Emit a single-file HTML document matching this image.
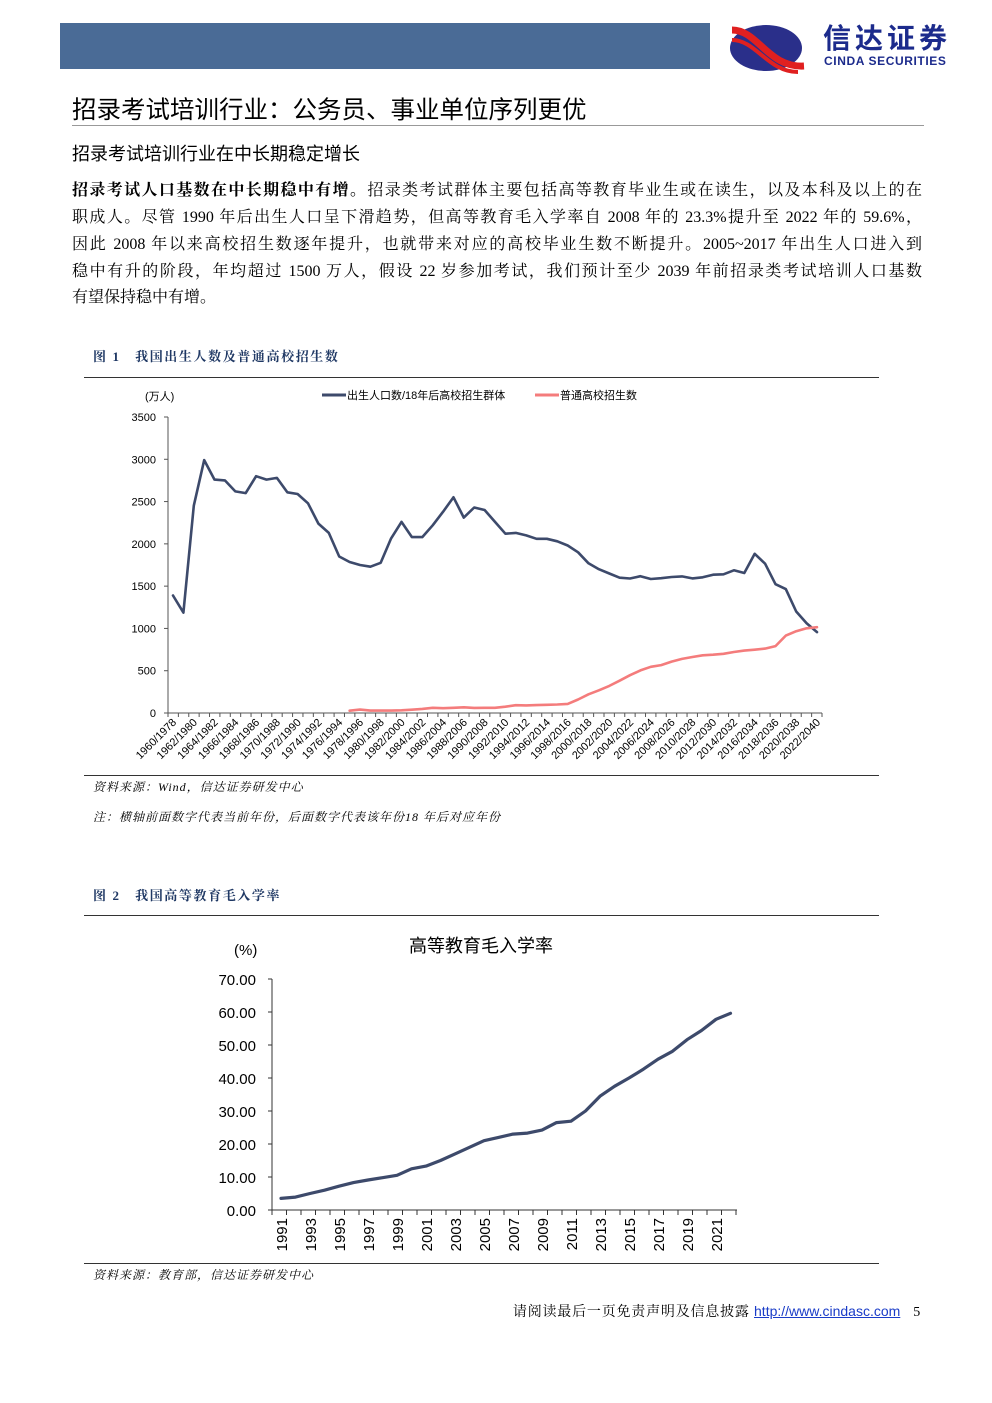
<!DOCTYPE html>
<html><head><meta charset="utf-8">
<style>
body{margin:0;background:#fff;}
#p{position:relative;width:992px;height:1403px;overflow:hidden;font-family:"Liberation Sans","Noto Sans CJK SC",sans-serif;color:#000;}
.a{position:absolute;white-space:nowrap;}
.ln{position:absolute;left:72px;width:850px;font-family:"Liberation Serif","Noto Serif CJK SC",serif;font-size:16px;text-align:justify;text-align-last:justify;white-space:nowrap;}
.cap{font-family:"Liberation Serif","Noto Serif CJK SC",serif;font-weight:bold;font-size:13px;color:#1f3864;letter-spacing:1.6px;}
.src{font-family:"Liberation Serif","Noto Serif CJK SC",serif;font-style:italic;font-size:12px;letter-spacing:1px;}
</style></head><body><div id="p">
<div class="a" style="left:60px;top:23px;width:650px;height:46px;background:#4a6b96;"></div>
<svg class="a" style="left:728px;top:22px" width="80" height="52"><ellipse cx="38" cy="26" rx="36" ry="23" fill="#2a2f8a"/><path d="M4 8 C30 8 40 46 76 44" stroke="#e02020" stroke-width="7" fill="none"/><path d="M4 18 C28 18 40 50 70 50" stroke="#e02020" stroke-width="4" fill="none"/></svg>
<div class="a" style="left:823px;top:23px;font-size:28px;line-height:32px;font-weight:bold;color:#1c2b8c;letter-spacing:4px;">信达证券</div>
<div class="a" style="left:824px;top:55px;font-size:12px;line-height:13px;font-weight:bold;color:#1c2b8c;letter-spacing:0.6px;">CINDA SECURITIES</div>
<div class="a" style="left:72px;top:91px;font-size:24.5px;">招录考试培训行业：公务员、事业单位序列更优</div>
<div class="a" style="left:72px;top:125px;width:852px;height:1px;background:#999;"></div>
<div class="a" style="left:72px;top:140px;font-size:18px;">招录考试培训行业在中长期稳定增长</div>
<div class="ln" style="top:177px;"><b>招录考试人口基数在中长期稳中有增。</b>招录类考试群体主要包括高等教育毕业生或在读生，以及本科及以上的在</div>
<div class="ln" style="top:204px;">职成人。尽管 1990 年后出生人口呈下滑趋势，但高等教育毛入学率自 2008 年的 23.3%提升至 2022 年的 59.6%，</div>
<div class="ln" style="top:231px;">因此 2008 年以来高校招生数逐年提升，也就带来对应的高校毕业生数不断提升。2005~2017 年出生人口进入到</div>
<div class="ln" style="top:258px;">稳中有升的阶段，年均超过 1500 万人，假设 22 岁参加考试，我们预计至少 2039 年前招录类考试培训人口基数</div>
<div class="ln" style="top:284px;text-align-last:left;">有望保持稳中有增。</div>
<div class="a cap" style="left:93px;top:346px;">图 1&nbsp;&nbsp;&nbsp;我国出生人数及普通高校招生数</div>
<div class="a" style="left:84px;top:377px;width:795px;height:1px;background:#333;"></div>
<svg class="a" style="left:0;top:380px" width="992" height="400" id="c1"></svg>
<div class="a" style="left:84px;top:775px;width:795px;height:1px;background:#333;"></div>
<div class="a src" style="left:93px;top:778px;">资料来源：Wind，信达证券研发中心</div>
<div class="a src" style="left:93px;top:808px;">注：横轴前面数字代表当前年份，后面数字代表该年份18 年后对应年份</div>
<div class="a cap" style="left:93px;top:885px;">图 2&nbsp;&nbsp;&nbsp;我国高等教育毛入学率</div>
<div class="a" style="left:84px;top:915px;width:795px;height:1px;background:#333;"></div>
<svg class="a" style="left:0;top:920px" width="992" height="345" id="c2"></svg>
<div class="a" style="left:84px;top:1263px;width:795px;height:1px;background:#333;"></div>
<div class="a src" style="left:93px;top:1266px;">资料来源：教育部，信达证券研发中心</div>
<div class="a" style="right:71px;top:1301px;font-size:14px;font-family:'Liberation Serif','Noto Serif CJK SC',serif;letter-spacing:0.8px;">请阅读最后一页免责声明及信息披露 <span style="color:#1a3cc8;text-decoration:underline;font-family:'Liberation Sans',sans-serif;letter-spacing:0;">http://www.cindasc.com</span>&nbsp;&nbsp;&nbsp;5</div>
</div>
<script>
var NS="http://www.w3.org/2000/svg";
function el(s,t,a,txt){var e=document.createElementNS(NS,t);for(var k in a)e.setAttribute(k,a[k]);if(txt!=null)e.textContent=txt;s.appendChild(e);return e;}
var s=document.getElementById('c1'),oy=380;
var y0=713-oy,ys=296/3500,x0=173,st=(817-173)/62;
el(s,'line',{x1:168,y1:417-oy,x2:168,y2:y0,stroke:'#555'});
el(s,'line',{x1:168,y1:y0,x2:822,y2:y0,stroke:'#555'});
for(var v=0;v<=3500;v+=500){var y=y0-v*ys;el(s,'line',{x1:164,y1:y,x2:168,y2:y,stroke:'#555'});el(s,'text',{x:156,y:y+4,'font-size':11,'text-anchor':'end'},v);}
for(var i=0;i<=63;i++){var x=168+i*(654/63);el(s,'line',{x1:x,y1:y0,x2:x,y2:y0+4,stroke:'#555'});}
for(var i=0;i<63;i+=2){var x=x0+i*st,yr=1960+i;el(s,'text',{x:x+4,y:y0+10,'font-size':11,'text-anchor':'end',transform:'rotate(-45 '+(x+4)+' '+(y0+10)+')'},yr+'/'+(yr+18));}
el(s,'text',{x:145,y:20,'font-size':11},'(万人)');
el(s,'line',{x1:322,y1:15,x2:346,y2:15,stroke:'#3d4a6b','stroke-width':3});
el(s,'text',{x:347,y:19,'font-size':11},'出生人口数/18年后高校招生群体');
el(s,'line',{x1:535,y1:15,x2:559,y2:15,stroke:'#f47c7c','stroke-width':3});
el(s,'text',{x:560,y:19,'font-size':11},'普通高校招生数');
var b=[1389,1187,2451,2990,2760,2750,2620,2600,2800,2760,2780,2610,2590,2480,2240,2130,1850,1786,1750,1730,1776,2064,2260,2080,2080,2220,2380,2550,2310,2430,2400,2260,2120,2130,2100,2060,2060,2030,1980,1900,1770,1700,1650,1600,1590,1617,1584,1594,1608,1615,1592,1604,1635,1640,1687,1655,1883,1765,1523,1465,1200,1062,956];
var e=[27,40,28,28,28,32,39,48,62,57,62,67,60,61,62,75,92,90,93,97,100,108,160,221,268,321,382,447,504,546,566,608,640,662,682,689,700,721,738,749,761,791,915,967,1001,1015];
function pl(svg,arr,off,X,S,Y0,YS,c,w){var p=arr.map(function(v,i){return (X+(i+off)*S).toFixed(1)+','+(Y0-v*YS).toFixed(1);}).join(' ');el(svg,'polyline',{points:p,fill:'none',stroke:c,'stroke-width':w,'stroke-linejoin':'round','stroke-linecap':'round'});}
pl(s,b,0,x0,st,y0,ys,'#3d4a6b',2.6);
pl(s,e,17,x0,st,y0,ys,'#f47c7c',2.6);
var t=document.getElementById('c2'),o2=920,z=1210-o2,zs=33/10;
el(t,'text',{x:481,y:32,'font-size':18,'text-anchor':'middle'},'高等教育毛入学率');
el(t,'text',{x:234,y:35,'font-size':15},'(%)');
el(t,'line',{x1:272,y1:979-o2,x2:272,y2:z,stroke:'#333'});
el(t,'line',{x1:272,y1:z,x2:737,y2:z,stroke:'#333'});
for(var v=0;v<=70;v+=10){var y=z-v*zs;el(t,'line',{x1:268,y1:y,x2:272,y2:y,stroke:'#333'});el(t,'text',{x:256,y:y+6,'font-size':15,'text-anchor':'end'},v.toFixed(2));}
var st2=14.5;
for(var i=0;i<=32;i++){var x=272+i*st2;el(t,'line',{x1:x,y1:z,x2:x,y2:z+5,stroke:'#333'});}
for(var i=0;i<32;i+=2){var x=281+i*st2;el(t,'text',{x:x+6,y:z+8,'font-size':15,'text-anchor':'end',transform:'rotate(-90 '+(x+6)+' '+(z+8)+')'},1991+i);}
var g=[3.5,3.9,5,6,7.2,8.3,9.1,9.8,10.5,12.5,13.3,15,17,19,21,22,23,23.3,24.2,26.5,26.9,30,34.5,37.5,40,42.7,45.7,48.1,51.6,54.4,57.8,59.6];
pl(t,g,0,281,st2,z,zs,'#3d4a6b',3.2);
</script>
</body></html>
